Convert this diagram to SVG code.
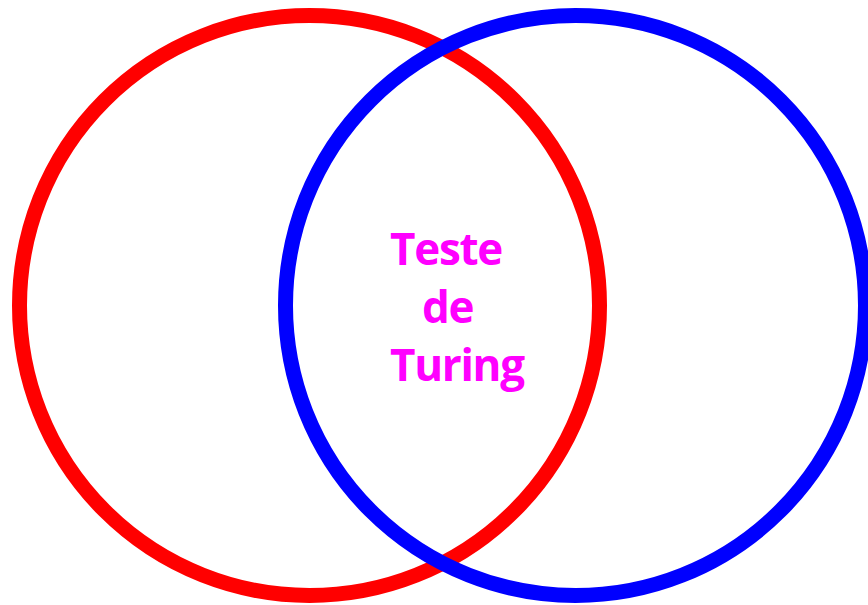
<svg xmlns="http://www.w3.org/2000/svg" width="868" height="605" viewBox="0 0 868 605">
<style>
.c{fill:none;stroke-width:15}
.t{font-family:"Open Sans","Liberation Sans",sans-serif;font-weight:bold;font-size:44px;fill:#ff00ff;letter-spacing:-1.3px}
</style>
<rect width="868" height="605" fill="#fff"/>
<g id="red"><circle class="c" cx="309.5" cy="305.5" r="290" stroke="#ff0000"/></g>
<g id="blue"><circle class="c" cx="575.5" cy="305.5" r="290" stroke="#0000ff"/></g>
<g id="label">
<text class="t" x="390" y="265">Teste</text>
<text class="t" x="422" y="323">de</text>
<text class="t" x="390" y="381">Turing</text>
</g>
</svg>
